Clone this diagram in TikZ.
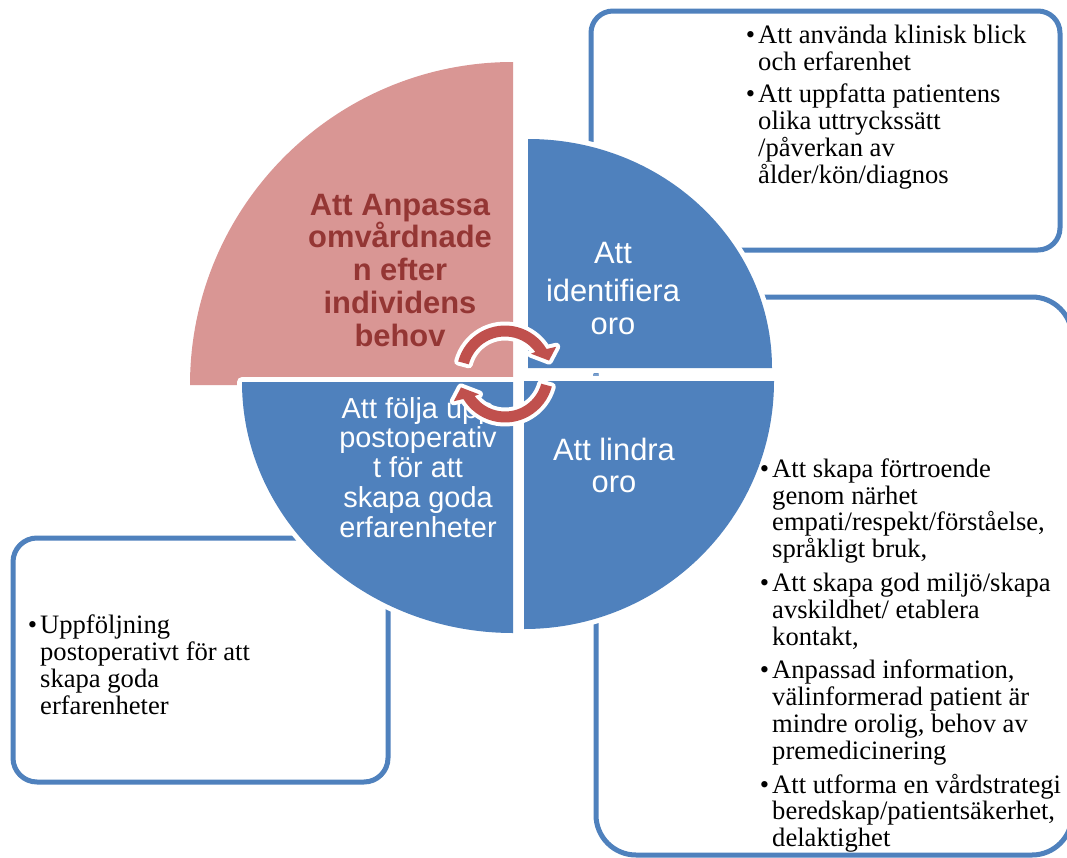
\documentclass[tikz,border=0pt]{standalone}
\usepackage{fontspec}
\setmainfont{Liberation Serif}
\setsansfont{Liberation Sans}
\definecolor{qblue}{HTML}{4F81BD}
\definecolor{qpink}{HTML}{D99694}
\definecolor{qdark}{HTML}{943634}
\definecolor{qred}{HTML}{C0504D}
\newcommand{\firstrule}{\rule{0pt}{1em}}
\newcommand{\bulit}{\llap{•\kern3pt}}
\tikzset{
  infobox/.style={draw=qblue, line width=5bp, fill=white},
  quadfill/.style={fill=#1, preaction={draw=white, line width=10bp, line join=round}},
  arrowfill/.style={fill=qred, preaction={draw=white, line width=8bp, line join=round}},
  quadtext/.style={anchor=north, inner sep=0pt, align=center, text=white,
    font=\sffamily\fontsize{31}{33}\selectfont},
  boxtext/.style={anchor=north west, inner sep=0pt, align=left, text=black,
    font=\rmfamily\fontsize{26.7}{27}\selectfont},
}
\begin{document}
\begin{tikzpicture}[x=1bp, y=1bp]
\useasboundingbox[fill=white] (0,0) rectangle (1067,-858);

% boxes
\draw[infobox, rounded corners=22bp] (591,-11) rectangle (1060,-250);
\draw[infobox, rounded corners=40bp] (596,-297) rectangle (1072,-855);
\draw[infobox, rounded corners=24bp] (13,-538) rectangle (388,-782);

% quadrants
\fill[qpink] (513,-385) -- (190,-385) arc[start angle=180, end angle=90, radius=323] -- cycle;
\path[quadfill=qblue] (528,-368) -- (528,-139) arc[start angle=90, end angle=0, x radius=244, y radius=229] -- cycle;
\path[quadfill=qblue] (524,-381) -- (774,-381) arc[start angle=0, end angle=-90, x radius=250, y radius=248] -- cycle;
\path[quadfill=qblue] (513,-382) -- (513,-633) arc[start angle=-90, end angle=-180, x radius=271, y radius=251] -- cycle;
\fill[qblue!75] (593,-374.3) rectangle (598,-375.7);

% quadrant texts
\node[quadtext, text=qdark, font=\sffamily\bfseries\fontsize{31}{33}\selectfont] (tpink) at (400,-184)
  {\firstrule Att Anpassa\\omvårdnade\\n efter\\individens\\behov};
\node[quadtext] (tident) at (613,-232) {\firstrule Att\\[6pt]identifiera\\oro};
\node[quadtext] (tlindra) at (614,-429) {\firstrule Att lindra\\oro};
\node[quadtext, font=\sffamily\fontsize{29}{30}\selectfont] (tfolja) at (418,-389)
  {\firstrule Att följa upp\\postoperativ\\t för att\\skapa goda\\erfarenheter};

% box texts
\node[boxtext] (textA) at (758,-16.3)
  {\firstrule\bulit Att använda klinisk blick\\och erfarenhet\\[6pt]%
   \bulit Att uppfatta patientens\\olika uttryckssätt\\/påverkan av\\ålder/kön/diagnos};
\node[boxtext] (textB) at (772,-450.3)
  {\firstrule\bulit Att skapa förtroende\\genom närhet\\empati/respekt/förståelse,\\språkligt bruk,\\[6.7pt]%
   \bulit Att skapa god miljö/skapa\\avskildhet/ etablera\\kontakt,\\[6.7pt]%
   \bulit Anpassad information,\\välinformerad patient är\\mindre orolig, behov av\\premedicinering\\[6.7pt]%
   \bulit Att utforma en vårdstrategi\\beredskap/patientsäkerhet,\\delaktighet};
\node[boxtext, font=\rmfamily\fontsize{26.7}{27.3}\selectfont] (textC) at (40,-606.3)
  {\firstrule\bulit Uppföljning\\postoperativt för att\\skapa goda\\erfarenheter};

% circular arrows
\coordinate (ac) at (505,-374);
\path[arrowfill] ([shift={(165:48.5)}]ac) arc[start angle=165, end angle=31, radius=48.5]
  -- ([shift={(28:58)}]ac) -- ([shift={(17:46)}]ac) -- ([shift={(38:33)}]ac)
  -- ([shift={(36:37.5)}]ac) arc[start angle=36, end angle=165, radius=37.5] -- cycle;
\path[arrowfill] ([shift={(345:48.5)}]ac) arc[start angle=345, end angle=211, radius=48.5]
  -- ([shift={(208:58)}]ac) -- ([shift={(197:46)}]ac) -- ([shift={(218:33)}]ac)
  -- ([shift={(216:37.5)}]ac) arc[start angle=216, end angle=345, radius=37.5] -- cycle;
\end{tikzpicture}
\end{document}
